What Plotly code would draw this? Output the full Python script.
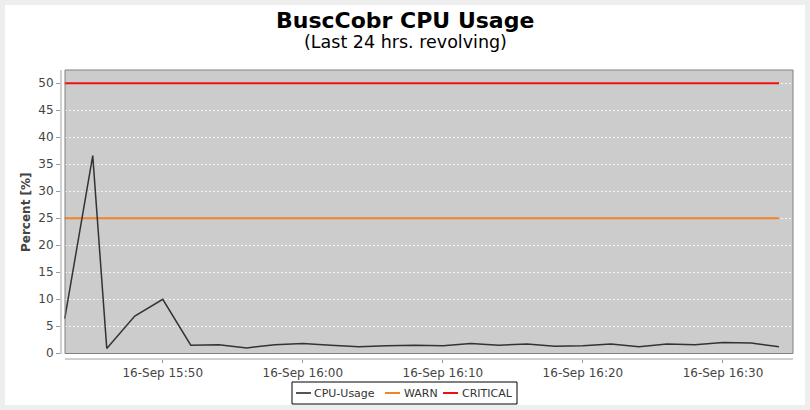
import plotly.graph_objects as go

# ---- data ----
times = ["2013-09-16 15:43", "2013-09-16 15:45", "2013-09-16 15:46", "2013-09-16 15:48",
         "2013-09-16 15:50", "2013-09-16 15:52", "2013-09-16 15:54", "2013-09-16 15:56",
         "2013-09-16 15:58", "2013-09-16 16:00", "2013-09-16 16:02", "2013-09-16 16:04",
         "2013-09-16 16:06", "2013-09-16 16:08", "2013-09-16 16:10", "2013-09-16 16:12",
         "2013-09-16 16:14", "2013-09-16 16:16", "2013-09-16 16:18", "2013-09-16 16:20",
         "2013-09-16 16:22", "2013-09-16 16:24", "2013-09-16 16:26", "2013-09-16 16:28",
         "2013-09-16 16:30", "2013-09-16 16:32", "2013-09-16 16:34"]
cpu_usage = [6.4, 36.6, 0.9, 6.9, 10.0, 1.5, 1.6, 1.0, 1.6, 1.8, 1.5, 1.2, 1.4, 1.5,
             1.4, 1.8, 1.5, 1.7, 1.3, 1.4, 1.7, 1.2, 1.7, 1.6, 2.0, 1.9, 1.2]
warn_level = [25] * len(times)
critical_level = [50] * len(times)
series_names = ["CPU-Usage", "WARN", "CRITICAL"]
y_ticks = [0, 5, 10, 15, 20, 25, 30, 35, 40, 45, 50]

title_text = "BuscCobr CPU Usage"
subtitle_text = "(Last 24 hrs. revolving)"
y_title = "Percent [%]"

# ---- layout geometry (pixels) ----
W, H = 810, 410
L, R, T, B = 61, 793, 70, 359   # plotly plot area
PW, PH = R - L, B - T


def px(x):
    return (x - L) / PW


def py(y):
    return (B - y) / PH


colors = {"CPU-Usage": "#333333", "WARN": "#f08428", "CRITICAL": "#ee1111"}
font = "DejaVu Sans, Verdana, sans-serif"

fig = go.Figure()
fig.add_trace(go.Scatter(x=times, y=warn_level, mode="lines", name=series_names[1],
                         line=dict(color=colors["WARN"], width=2), showlegend=False))
fig.add_trace(go.Scatter(x=times, y=critical_level, mode="lines", name=series_names[2],
                         line=dict(color=colors["CRITICAL"], width=2), showlegend=False))
fig.add_trace(go.Scatter(x=times, y=cpu_usage, mode="lines", name=series_names[0],
                         line=dict(color=colors["CPU-Usage"], width=1.5), showlegend=False))

shapes = []
# plot area background
shapes.append(dict(type="rect", xref="paper", yref="paper", x0=px(65), x1=px(793),
                   y0=py(354), y1=py(70), fillcolor="#cccccc",
                   line=dict(width=0), layer="below"))
# plot area border (above grid)
shapes.append(dict(type="rect", xref="paper", yref="paper", x0=px(65), x1=px(793),
                   y0=py(353.5), y1=py(70), fillcolor="rgba(0,0,0,0)",
                   line=dict(color="#808080", width=1), layer="above"))
# axis lines (offset from plot area)
shapes.append(dict(type="line", xref="paper", yref="paper", x0=px(61), x1=px(61),
                   y0=py(354), y1=py(70), line=dict(color="#a0a0a0", width=1)))
shapes.append(dict(type="line", xref="paper", yref="paper", x0=px(65), x1=px(793),
                   y0=py(359), y1=py(359), line=dict(color="#a0a0a0", width=1)))
# outer grey frame
shapes.append(dict(type="rect", xref="paper", yref="paper", x0=px(0), x1=px(W),
                   y0=py(H), y1=py(0), line=dict(color="#eeeeee", width=10),
                   fillcolor="rgba(0,0,0,0)"))
# legend box
shapes.append(dict(type="rect", xref="paper", yref="paper", x0=px(292), x1=px(517),
                   y0=py(404), y1=py(382), line=dict(color="#000000", width=1),
                   fillcolor="white"))
annotations = []
leg_items = [(series_names[0], 296, 314), (series_names[1], 385, 404), (series_names[2], 443, 462)]
for name, lx, tx in leg_items:
    shapes.append(dict(type="line", xref="paper", yref="paper", x0=px(lx), x1=px(lx + 15),
                       y0=py(393), y1=py(393),
                       line=dict(color=colors[name] if name != "CPU-Usage" else "#555555", width=2)))
    annotations.append(dict(text=name, xref="paper", yref="paper", x=px(tx - 2), y=py(393),
                            xanchor="left", yanchor="middle", showarrow=False,
                            font=dict(family=font, size=11, color="#333333")))

annotations.append(dict(text="<b>" + title_text + "</b>", xref="paper", yref="paper",
                        x=px(405), y=py(20.5), xanchor="center", yanchor="middle",
                        showarrow=False, font=dict(family=font, size=22, color="#000000")))
annotations.append(dict(text=subtitle_text, xref="paper", yref="paper",
                        x=px(405), y=py(42), xanchor="center", yanchor="middle",
                        showarrow=False, font=dict(family=font, size=17.5, color="#000000")))
annotations.append(dict(text="<b>" + y_title + "</b>", xref="paper", yref="paper",
                        x=px(26), y=py(212), xanchor="center", yanchor="middle",
                        textangle=-90, showarrow=False,
                        font=dict(family=font, size=12, color="#444444")))

fig.update_layout(
    width=W, height=H,
    margin=dict(l=L, r=W - R, t=T, b=H - B, pad=0),
    paper_bgcolor="white", plot_bgcolor="white",
    shapes=shapes, annotations=annotations,
    showlegend=False,
    xaxis=dict(type="date", range=["2013-09-16 15:42:44", "2013-09-16 16:35:00"],
               tick0="2013-09-16 15:50", dtick=600000, tickformat="%d-%b %H:%M",
               ticks="outside", ticklen=3, tickcolor="#999999", showgrid=False,
               showline=False, zeroline=False,
               tickfont=dict(family=font, size=12, color="#444444")),
    yaxis=dict(range=[-1.06, 52.46], tickvals=y_ticks, ticks="outside", ticklen=4,
               tickcolor="#999999", showgrid=True, gridcolor="#f4f4f4", griddash="2px,2px",
               gridwidth=1, showline=False, zeroline=False,
               tickfont=dict(family=font, size=12, color="#444444")),
)

fig.write_html("out.html", config={"displayModeBar": False},
               post_script="document.body.style.margin='0';")
